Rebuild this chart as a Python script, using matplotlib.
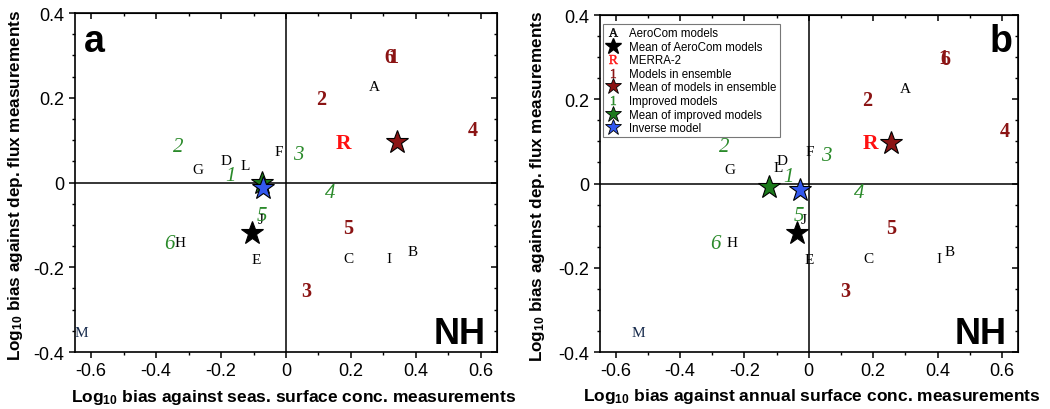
import matplotlib
matplotlib.use("Agg")
import matplotlib.pyplot as plt
from matplotlib.lines import Line2D
from matplotlib.ticker import MultipleLocator, FuncFormatter

plt.rcParams['font.family'] = ['Liberation Sans', 'DejaVu Sans']
plt.rcParams['mathtext.fontset'] = 'custom'
plt.rcParams['mathtext.rm'] = 'Liberation Serif'
plt.rcParams['mathtext.it'] = 'Liberation Serif:italic'
plt.rcParams['mathtext.bf'] = 'Liberation Sans:bold'

# ---------------- data ----------------
aero_labels = ['A', 'B', 'C', 'D', 'E', 'F', 'G', 'H', 'I', 'J', 'L', 'M']
aero_x_a = [0.271, 0.389, 0.191, -0.185, -0.092, -0.021, -0.273, -0.326, 0.318, -0.079, -0.126, -0.630]
aero_y_a = [0.226, -0.163, -0.179, 0.053, -0.182, 0.074, 0.031, -0.142, -0.179, -0.087, 0.041, -0.354]
aero_x_b = [0.301, 0.436, 0.185, -0.082, 0.000, 0.002, -0.244, -0.239, 0.405, -0.017, -0.095, -0.528]
aero_y_b = [0.226, -0.162, -0.178, 0.054, -0.180, 0.077, 0.033, -0.140, -0.178, -0.085, 0.039, -0.353]

ens_labels = ['1', '2', '3', '4', '5', '6']
ens_x_a = [0.332, 0.108, 0.063, 0.574, 0.193, 0.317]
ens_y_a = [0.297, 0.198, -0.256, 0.123, -0.107, 0.296]
ens_x_b = [0.418, 0.182, 0.113, 0.610, 0.256, 0.424]
ens_y_b = [0.298, 0.199, -0.255, 0.124, -0.105, 0.296]

imp_labels = ['1', '2', '3', '4', '5', '6']
imp_x_a = [-0.170, -0.331, 0.039, 0.137, -0.074, -0.359]
imp_y_a = [0.017, 0.086, 0.066, -0.024, -0.078, -0.145]
imp_x_b = [-0.064, -0.262, 0.056, 0.157, -0.031, -0.289]
imp_y_b = [0.017, 0.087, 0.067, -0.022, -0.077, -0.143]

merra_a = (0.178, 0.094)
merra_b = (0.193, 0.095)

aero_mean_a = (-0.105, -0.119)
aero_mean_b = (-0.036, -0.117)
ens_mean_a = (0.341, 0.095)
ens_mean_b = (0.256, 0.095)
imp_mean_a = (-0.075, -0.002)
imp_mean_b = (-0.125, -0.008)
inverse_a = (-0.070, -0.014)
inverse_b = (-0.026, -0.016)

xlabel_a = 'Log$_{\\mathbf{10}}$ bias against seas. surface conc. measurements'
xlabel_b = 'Log$_{\\mathbf{10}}$ bias against annual surface conc. measurements'
ylabel = 'Log$_{\\mathbf{10}}$ bias against dep. flux measurements'

legend_labels = ['AeroCom models', 'Mean of AeroCom models', 'MERRA-2',
                 'Models in ensemble', 'Mean of models in ensemble',
                 'Improved models', 'Mean of improved models', 'Inverse model']

# ---------------- style ----------------
DARKRED = '#8b1414'
GREEN = '#2a8a2a'
GREENSTAR = '#1c7a1c'
BLUE = '#3358ee'
RED = '#ff1010'
MCOL = '#14284a'

fig = plt.figure(figsize=(10.5, 4.1), dpi=100)
ax_a = fig.add_axes([75 / 1050, 1 - 353 / 410, (497 - 75) / 1050, (353 - 14) / 410])
ax_b = fig.add_axes([599.5 / 1050, 1 - 353 / 410, (1018 - 599.5) / 1050, (353 - 16) / 410])


def fmt(v, p):
    return '0' if abs(v) < 1e-9 else ('%.1f' % v)


def style_axes(ax, xlabel):
    ax.set_xlim(-0.65, 0.65)
    ax.set_ylim(-0.4, 0.4)
    ax.axhline(0, color='black', lw=1.1, zorder=1)
    ax.axvline(0, color='black', lw=1.1, zorder=1)
    for s in ax.spines.values():
        s.set_linewidth(1.2)
    ax.xaxis.set_major_locator(MultipleLocator(0.2))
    ax.xaxis.set_minor_locator(MultipleLocator(0.1))
    ax.yaxis.set_major_locator(MultipleLocator(0.2))
    ax.yaxis.set_minor_locator(MultipleLocator(0.05))
    ax.xaxis.set_major_formatter(FuncFormatter(fmt))
    ax.yaxis.set_major_formatter(FuncFormatter(fmt))
    ax.tick_params(which='major', direction='out', length=4.5, width=1.1,
                   labelsize=13, pad=3)
    ax.tick_params(which='minor', direction='out', length=2.5, width=1.0)
    # mirrored ticks pointing inward on top and right
    top = ax.secondary_xaxis('top')
    top.xaxis.set_major_locator(MultipleLocator(0.2))
    top.xaxis.set_minor_locator(MultipleLocator(0.1))
    top.tick_params(which='major', direction='in', length=4.5, width=1.1, labeltop=False)
    top.tick_params(which='minor', direction='in', length=2.5, width=1.0)
    right = ax.secondary_yaxis('right')
    right.yaxis.set_major_locator(MultipleLocator(0.2))
    right.yaxis.set_minor_locator(MultipleLocator(0.05))
    right.tick_params(which='major', direction='in', length=4.5, width=1.1, labelright=False)
    right.tick_params(which='minor', direction='in', length=2.5, width=1.0)
    ax.set_xlabel(xlabel, fontsize=12.5, fontweight='bold')
    ax.set_ylabel(ylabel, fontsize=12.3, fontweight='bold')
    ax.text(0.973, 0.028, 'NH', transform=ax.transAxes, ha='right', va='baseline',
            fontsize=26, fontweight='bold')


def draw_points(ax, ax_x, ax_y, ex, ey, ix, iy, merra, amean, emean, imean, inv):
    for lab, x, y in zip(aero_labels, ax_x, ax_y):
        ax.text(x, y, lab, ha='center', va='center', fontsize=11,
                family='Liberation Serif', color=MCOL if lab == 'M' else 'black', zorder=3)
    for lab, x, y in zip(ens_labels, ex, ey):
        ax.text(x, y, lab, ha='center', va='center', fontsize=14.5, fontweight='bold',
                family='Liberation Serif', color=DARKRED, zorder=3)
    for lab, x, y in zip(imp_labels, ix, iy):
        ax.text(x, y, lab, ha='center', va='center', fontsize=15, style='italic',
                family='Liberation Serif', color=GREEN, zorder=3)
    ax.text(merra[0], merra[1], 'R', ha='center', va='center', fontsize=15.5,
            fontweight='bold', family='Liberation Serif', color=RED, zorder=3)
    ax.plot([amean[0]], [amean[1]], marker='*', ms=17, mfc='black', mec='black',
            mew=0.8, ls='None', zorder=4)
    ax.plot([emean[0]], [emean[1]], marker='*', ms=17, mfc=DARKRED, mec='black',
            mew=0.8, ls='None', zorder=4)
    ax.plot([imean[0]], [imean[1]], marker='*', ms=17, mfc=GREENSTAR, mec='black',
            mew=0.8, ls='None', zorder=4)
    ax.plot([inv[0]], [inv[1]], marker='*', ms=17, mfc=BLUE, mec='black',
            mew=0.8, ls='None', zorder=5)


style_axes(ax_a, xlabel_a)
style_axes(ax_b, xlabel_b)
draw_points(ax_a, aero_x_a, aero_y_a, ens_x_a, ens_y_a, imp_x_a, imp_y_a,
            merra_a, aero_mean_a, ens_mean_a, imp_mean_a, inverse_a)
draw_points(ax_b, aero_x_b, aero_y_b, ens_x_b, ens_y_b, imp_x_b, imp_y_b,
            merra_b, aero_mean_b, ens_mean_b, imp_mean_b, inverse_b)

ax_a.text(0.021, 0.888, 'a', transform=ax_a.transAxes, ha='left', va='baseline',
          fontsize=27, fontweight='bold')
ax_b.text(0.986, 0.893, 'b', transform=ax_b.transAxes, ha='right', va='baseline',
          fontsize=27, fontweight='bold')

ax_a.xaxis.set_label_coords(0.517, -0.102)
ax_b.xaxis.set_label_coords(0.508, -0.102)
ax_a.yaxis.set_label_coords(-0.118, 0.495)
ax_b.yaxis.set_label_coords(-0.125, 0.495)

handles = [
    Line2D([], [], ls='None', marker='$\\mathrm{A}$', color='black', ms=6.5, mew=0.3),
    Line2D([], [], ls='None', marker='*', mfc='black', mec='black', ms=12),
    Line2D([], [], ls='None', marker='$\\mathrm{R}$', color=RED, ms=6.5, mew=0.3),
    Line2D([], [], ls='None', marker='$\\mathrm{1}$', color=DARKRED, ms=6.5, mew=0.3),
    Line2D([], [], ls='None', marker='*', mfc=DARKRED, mec='black', mew=0.6, ms=12),
    Line2D([], [], ls='None', marker='$\\mathit{1}$', color=GREEN, ms=6.5, mew=0.3),
    Line2D([], [], ls='None', marker='*', mfc=GREENSTAR, mec='black', mew=0.6, ms=12),
    Line2D([], [], ls='None', marker='*', mfc=BLUE, mec='black', mew=0.6, ms=12),
]
leg = ax_b.legend(handles, legend_labels, loc='upper left', bbox_to_anchor=(0.008, 0.973),
                  borderaxespad=0, fontsize=8.3, frameon=True, fancybox=False,
                  edgecolor='#555555', handlelength=1.3, handletextpad=0.75,
                  labelspacing=0.14, borderpad=0.25)
leg.get_frame().set_linewidth(0.8)
leg.set_zorder(6)

fig.savefig('out.png', dpi=100)
